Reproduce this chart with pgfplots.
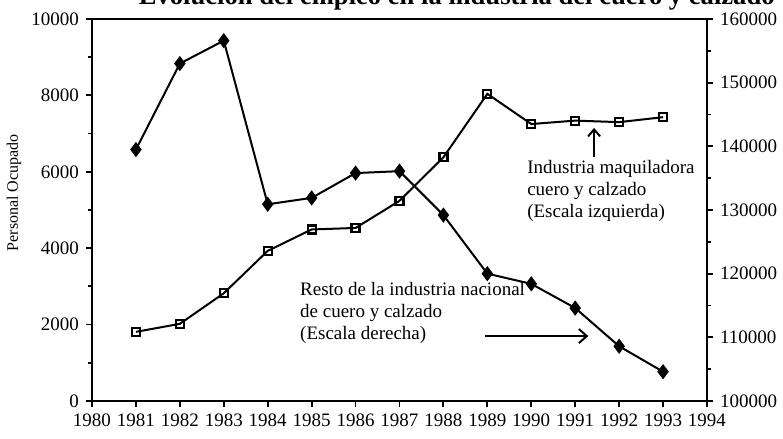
\documentclass[border=0pt]{standalone}
\usepackage{pgfplots}
\pgfplotsset{compat=1.18}
\usepackage{fontspec}
\setmainfont{Liberation Serif}
\usetikzlibrary{arrows.meta}

% Industria maquiladora (escala izquierda)
\pgfplotstableread{
year maq
1981 1810
1982 2020
1983 2820
1984 3930
1985 4490
1986 4530
1987 5240
1988 6380
1989 8040
1990 7250
1991 7340
1992 7300
1993 7430
}\maquila

% Resto de la industria nacional (escala derecha)
\pgfplotstableread{
year resto
1981 139500
1982 153000
1983 156600
1984 130900
1985 131900
1986 135800
1987 136100
1988 129200
1989 120000
1990 118400
1991 114600
1992 108600
1993 104600
}\resto

\pgfplotsset{
  base/.style={
    scale only axis,
    width=307.5pt, height=191pt,
    xmin=1980, xmax=1994,
    tick align=outside,
    major tick length=3pt,
    minor tick length=2pt,
    every tick/.style={black, line width=0.9pt},
    axis line style={line width=1.2pt},
    tick label style={font=\fontsize{9.5}{11}\selectfont},
    scaled ticks=false,
    /pgf/number format/assume math mode=true,
    /pgf/number format/1000 sep={},
  },
}

\begin{document}
\begin{tikzpicture}
\begin{axis}[base,
  ymin=0, ymax=10000,
  xtick={1980,...,1994},
  minor x tick num=1,
  ytick={0,2000,...,10000},
  minor y tick num=1,
  xtick pos=lower, ytick pos=left,
  yticklabel style={/pgf/number format/fixed},
]
\addplot[black, line width=1pt, mark=square, mark size=2pt,
  mark options={line width=1.1pt, fill=white}] table[x=year, y=maq] {\maquila};
\coordinate (bl) at (rel axis cs:0,0);
\coordinate (tr) at (rel axis cs:1,1);
\coordinate (ml) at (rel axis cs:0,0.545);
\node[anchor=north west, align=left, inner sep=0pt,
  font=\fontsize{9.5}{11}\selectfont] at (axis cs:1989.9,6310)
  {Industria maquiladora\\cuero y calzado\\(Escala izquierda)};
\draw[-{Straight Barb[length=3.5pt, width=6pt]}, line width=1pt]
  (axis cs:1991.43,6380) -- (axis cs:1991.43,7150);
\node[anchor=north west, align=left, inner sep=0pt,
  font=\fontsize{9.5}{11}\selectfont] at (axis cs:1984.73,3115)
  {Resto de la industria nacional\\de cuero y calzado\\(Escala derecha)};
\draw[-{Straight Barb[length=4pt, width=7pt]}, line width=1pt]
  (axis cs:1988.95,1700) -- (axis cs:1991.3,1700);
\end{axis}
\begin{axis}[base,
  ymin=100000, ymax=160000,
  ytick={100000,110000,...,160000},
  minor y tick num=1,
  axis x line=none,
  axis y line*=right,
  ytick pos=right,
  yticklabel style={/pgf/number format/fixed},
]
\addplot[black, line width=1pt, mark=diamond*, mark size=3pt]
  table[x=year, y=resto] {\resto};
\end{axis}
\node[rotate=90, font=\fontsize{8}{9}\selectfont] at ([xshift=-39pt]ml) {Personal Ocupado};
\node[anchor=base east, inner sep=0pt, font=\bfseries\fontsize{13.3}{15}\selectfont]
  at ([xshift=34pt, yshift=7pt]tr) {Evolución del empleo en la industria del cuero y calzado};
\pgfresetboundingbox
\path[use as bounding box] ([xshift=-46pt, yshift=-19pt]bl) rectangle ([xshift=38pt, yshift=9.5pt]tr);
\end{tikzpicture}
\end{document}
